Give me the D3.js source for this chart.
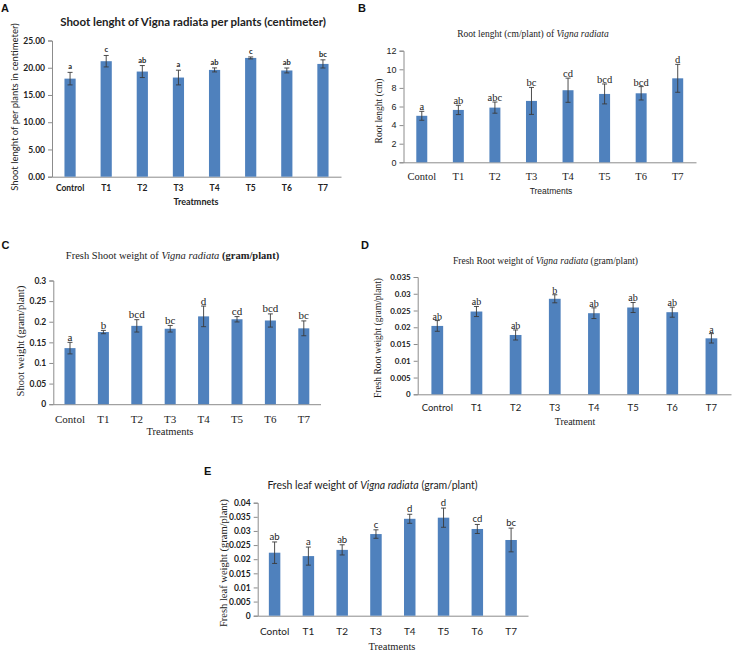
<!DOCTYPE html>
<html><head><meta charset="utf-8">
<script src="https://cdn.jsdelivr.net/npm/d3@7/dist/d3.min.js"></script>
<style>body{margin:0;background:#fff}svg{display:block}</style>
</head><body>
<svg id="c" width="733" height="651"></svg>
<script>
// ---------- DATA ----------
const catsA = ["Control","T1","T2","T3","T4","T5","T6","T7"];
const catsB = ["Contol","T1","T2","T3","T4","T5","T6","T7"];
const catsC = ["Contol","T1","T2","T3","T4","T5","T6","T7"];
const catsD = ["Control","T1","T2","T3","T4","T5","T6","T7"];
const catsE = ["Contol","T1","T2","T3","T4","T5","T6","T7"];

const shootLength = [18.0, 21.2, 19.3, 18.2, 19.6, 21.8, 19.5, 20.7];
const shootLengthErr = [1.15, 1.05, 1.1, 1.35, 0.37, 0.18, 0.45, 0.75];
const shootLengthLetters = ["a","c","ab","a","ab","c","ab","bc"];
const ticksA = [0,5,10,15,20,25];
const tickLabelsA = ["0.00","5.00","10.00","15.00","20.00","25.00"];

const rootLength = [5.0, 5.63, 5.88, 6.6, 7.75, 7.35, 7.42, 9.03];
const rootLengthErr = [0.48, 0.5, 0.6, 1.45, 1.3, 1.07, 0.72, 1.5];
const rootLengthLetters = ["a","ab","abc","bc","cd","bcd","bcd","d"];
const ticksB = [0,2,4,6,8,10,12];
const tickLabelsB = ["0","2","4","6","8","10","12"];

const shootWeight = [0.136, 0.175, 0.19, 0.183, 0.213, 0.206, 0.203, 0.184];
const shootWeightErr = [0.014, 0.004, 0.015, 0.008, 0.025, 0.0065, 0.016, 0.018];
const shootWeightLetters = ["a","b","bcd","bc","d","cd","bcd","bc"];
const ticksC = [0,0.05,0.1,0.15,0.2,0.25,0.3];
const tickLabelsC = ["0","0.05","0.1","0.15","0.2","0.25","0.3"];

const rootWeight = [0.0204, 0.0247, 0.0177, 0.0285, 0.0242, 0.0259, 0.0245, 0.0167];
const rootWeightErr = [0.0016, 0.0015, 0.0015, 0.0012, 0.0016, 0.0015, 0.0015, 0.0014];
const rootWeightLetters = ["ab","ab","ab","b","ab","ab","ab","a"];
const ticksD = [0,0.005,0.01,0.015,0.02,0.025,0.03,0.035];
const tickLabelsD = ["0","0.005","0.01","0.015","0.02","0.025","0.03","0.035"];

const leafWeight = [0.0223, 0.0211, 0.0233, 0.0289, 0.0343, 0.0347, 0.0307, 0.0268];
const leafWeightErr = [0.0038, 0.0032, 0.0018, 0.0015, 0.0016, 0.0034, 0.0016, 0.0042];
const leafWeightLetters = ["ab","a","ab","c","d","d","cd","bc"];
const ticksE = [0,0.005,0.01,0.015,0.02,0.025,0.03,0.035,0.04];
const tickLabelsE = ["0","0.005","0.01","0.015","0.02","0.025","0.03","0.035","0.04"];

// ---------- DRAW ----------
const SANS = "Lato, 'Open Sans', sans-serif";
const SERIF = "'Liberation Serif', 'DejaVu Serif', serif";
const BAR = "#4f81bd";
const AXIS = "#8c8c8c";
const svg = d3.select("#c");

function richText(g, x, y, parts, font, size, weight) {
  const t = g.append("text").attr("x", x).attr("y", y).attr("text-anchor","middle")
    .style("font-family", font).style("font-size", size+"px").style("font-weight", weight||"normal").attr("fill","#222");
  parts.forEach(p => t.append("tspan").text(p[0]).style("font-style", p[1] ? "italic" : "normal")
    .style("font-weight", p[2] ? "bold" : null));
  return t;
}

function panel(o) {
  const g = svg.append("g");
  const x = d3.scaleBand().domain(o.cats).range([o.x0, o.x1]).padding(0);
  const y = d3.scaleLinear().domain([0, o.ticks[o.ticks.length-1]]).range([o.yb, o.yt]);
  // y axis
  const ya = d3.axisLeft(y).tickValues(o.ticks).tickSize(4).tickFormat((d,i)=>o.tickLabels[i]).tickPadding(3);
  const yg = g.append("g").attr("transform",`translate(${o.x0},0)`).call(ya);
  yg.select(".domain").attr("stroke", AXIS);
  yg.selectAll(".tick line").attr("stroke", AXIS);
  yg.selectAll(".tick text").attr("fill","#222").style("font-family", o.tickFont)
    .style("font-size", o.tickSize+"px").style("font-weight", o.tickWeight);
  // x axis
  const xa = d3.axisBottom(x).tickSize(0).tickPadding(o.catPad);
  const xg = g.append("g").attr("transform",`translate(0,${o.yb})`).call(xa);
  xg.select(".domain").attr("stroke", AXIS);
  xg.selectAll(".tick text").attr("fill","#222").style("font-family", o.catFont)
    .style("font-size", o.catSize+"px").style("font-weight", o.catWeight);
  // bars
  const bw = x.bandwidth()*o.barRatio;
  g.selectAll("rect.bar").data(o.vals).join("rect").attr("class","bar")
    .attr("x",(d,i)=>x(o.cats[i])+x.bandwidth()/2-bw/2).attr("width",bw)
    .attr("y",d=>y(d)).attr("height",d=>o.yb-y(d)).attr("fill",BAR);
  // error bars
  const eg = g.selectAll("g.err").data(o.vals).join("g").attr("class","err");
  eg.each(function(d,i){
    const cx = x(o.cats[i])+x.bandwidth()/2, e = o.errs[i];
    const s = d3.select(this);
    s.append("line").attr("x1",cx).attr("x2",cx).attr("y1",y(d+e)).attr("y2",y(d-e));
    s.append("line").attr("x1",cx-2.5).attr("x2",cx+2.5).attr("y1",y(d+e)).attr("y2",y(d+e));
    s.append("line").attr("x1",cx-2.5).attr("x2",cx+2.5).attr("y1",y(d-e)).attr("y2",y(d-e));
  });
  eg.selectAll("line").attr("stroke","#3a3a3a").attr("stroke-width",0.9);
  // letters
  g.selectAll("text.lab").data(o.vals).join("text").attr("class","lab")
    .attr("x",(d,i)=>x(o.cats[i])+x.bandwidth()/2).attr("y",(d,i)=>y(d+o.errs[i])-o.letGap)
    .attr("text-anchor","middle").text((d,i)=>o.letters[i]).attr("fill","#222")
    .style("font-family",o.letFont).style("font-size",o.letSize+"px").style("font-weight",o.letWeight);
  // title
  richText(g, o.titleX, o.titleY, o.title, o.titleFont, o.titleSize, o.titleWeight);
  // x title
  g.append("text").attr("x",o.xtX).attr("y",o.xtY).attr("text-anchor","middle").text(o.xTitle).attr("fill","#222")
    .style("font-family",o.xtFont).style("font-size",o.xtSize+"px").style("font-weight",o.xtWeight||"normal");
  // y title
  g.append("text").attr("transform",`translate(${o.ytX},${o.ytY}) rotate(-90)`).attr("text-anchor","middle")
    .text(o.yTitle).attr("fill","#222").style("font-family",o.ytFont).style("font-size",o.ytSize+"px");
  // panel letter
  svg.append("text").attr("x",o.pX).attr("y",o.pY).text(o.pLabel).attr("fill","#111")
    .style("font-family","'Liberation Sans', Arial, sans-serif").style("font-size","11px").style("font-weight","bold");
}

panel({cats:catsA, vals:shootLength, errs:shootLengthErr, letters:shootLengthLetters, ticks:ticksA, tickLabels:tickLabelsA,
  x0:52, x1:341, yt:40.5, yb:176.7, barRatio:0.31,
  tickFont:SANS, tickSize:8.5, tickWeight:"bold", catFont:SANS, catSize:8.5, catWeight:"bold", catPad:8,
  letFont:SANS, letSize:7.5, letWeight:"bold", letGap:3,
  title:[["Shoot lenght of Vigna radiata per plants (centimeter)"]], titleX:193, titleY:26, titleFont:SANS, titleSize:11.5, titleWeight:"bold",
  xTitle:"Treatmnets", xtX:196, xtY:205, xtFont:SANS, xtSize:9, xtWeight:"bold",
  yTitle:"Shoot lenght of per plants  in centimeter)", ytX:18, ytY:107, ytFont:SANS, ytSize:9.5,
  pLabel:"A", pX:1, pY:12});

panel({cats:catsB, vals:rootLength, errs:rootLengthErr, letters:rootLengthLetters, ticks:ticksB, tickLabels:tickLabelsB,
  x0:403.5, x1:696, yt:50.7, yb:162.3, barRatio:0.30,
  tickFont:"'Liberation Sans', Arial, sans-serif", tickSize:9, tickWeight:"normal", catFont:SERIF, catSize:10.5, catWeight:"normal", catPad:10,
  letFont:SERIF, letSize:10.5, letWeight:"normal", letGap:1,
  title:[["Root lenght (cm/plant) of "],["Vigna radiata",true]], titleX:533, titleY:37, titleFont:SERIF, titleSize:9.5,
  xTitle:"Treatments", xtX:551, xtY:194, xtFont:"'Liberation Sans', Arial, sans-serif", xtSize:8.5,
  yTitle:"Root lenght (cm)", ytX:381.5, ytY:111, ytFont:SERIF, ytSize:9.5,
  pLabel:"B", pX:358, pY:12});

panel({cats:catsC, vals:shootWeight, errs:shootWeightErr, letters:shootWeightLetters, ticks:ticksC, tickLabels:tickLabelsC,
  x0:53.3, x1:320.5, yt:280.5, yb:404.2, barRatio:0.33,
  tickFont:SANS, tickSize:8.5, tickWeight:"bold", catFont:SERIF, catSize:11, catWeight:"normal", catPad:11,
  letFont:SERIF, letSize:11, letWeight:"normal", letGap:1.5,
  title:[["Fresh Shoot weight of "],["Vigna radiata",true],[" (gram/plant)",false,true]], titleX:172.5, titleY:259, titleFont:SERIF, titleSize:10.5,
  xTitle:"Treatments", xtX:170, xtY:435, xtFont:SERIF, xtSize:10.5,
  yTitle:"Shoot weight (gram/plant)", ytX:24, ytY:341, ytFont:SERIF, ytSize:10.5,
  pLabel:"C", pX:1.5, pY:248.5});

panel({cats:catsD, vals:rootWeight, errs:rootWeightErr, letters:rootWeightLetters, ticks:ticksD, tickLabels:tickLabelsD,
  x0:417.7, x1:731, yt:277, yb:394.3, barRatio:0.30,
  tickFont:SANS, tickSize:8, tickWeight:"bold", catFont:SANS, catSize:9.5, catWeight:"normal", catPad:10,
  letFont:SERIF, letSize:10, letWeight:"normal", letGap:1,
  title:[["Fresh Root weight of "],["Vigna radiata",true],[" (gram/plant)"]], titleX:545.5, titleY:264, titleFont:SERIF, titleSize:9.5,
  xTitle:"Treatment", xtX:575, xtY:425, xtFont:SERIF, xtSize:10,
  yTitle:"Fresh Root weight (gram/plant)", ytX:381, ytY:338, ytFont:SERIF, ytSize:9.5,
  pLabel:"D", pX:361, pY:248.5});

panel({cats:catsE, vals:leafWeight, errs:leafWeightErr, letters:leafWeightLetters, ticks:ticksE, tickLabels:tickLabelsE,
  x0:257.7, x1:528, yt:502.7, yb:615.7, barRatio:0.34,
  tickFont:SANS, tickSize:8.5, tickWeight:"bold", catFont:SANS, catSize:10, catWeight:"normal", catPad:12,
  letFont:SANS, letSize:9.5, letWeight:"normal", letGap:2,
  title:[["Fresh leaf weight of "],["Vigna radiata",true],[" (gram/plant)"]], titleX:372.5, titleY:489, titleFont:SANS, titleSize:10.5,
  xTitle:"Treatments", xtX:392, xtY:650, xtFont:SERIF, xtSize:10.5,
  yTitle:"Fresh leaf weight (gram/plant)", ytX:227, ytY:563, ytFont:SERIF, ytSize:10.5,
  pLabel:"E", pX:204, pY:475});
</script>
</body></html>
